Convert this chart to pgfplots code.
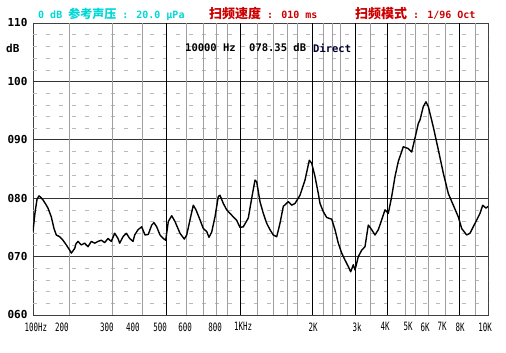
\documentclass[border=0pt]{standalone}
\usepackage{pgfplots}
\pgfplotsset{compat=1.18}
\usepackage{fontspec}
\setmainfont{DejaVu Sans}
\newfontfamily\ylab{DejaVu Sans Mono}
\newfontfamily\xlab[FakeStretch=0.65]{DejaVu Sans Mono}
\newfontfamily\cjk{Noto Sans CJK SC}
\definecolor{cyantxt}{HTML}{00D8D8}
\definecolor{redtxt}{HTML}{CC0000}
\begin{document}
\begin{tikzpicture}[x=1pt,y=1pt]
\useasboundingbox (0,0) rectangle (506,353);
\fill[white] (0,0) rectangle (506,353);
\begin{axis}[
  at={(33pt,38pt)}, anchor=south west, scale only axis,
  width=455pt, height=292pt,
  xmin=33, xmax=488, ymin=60, ymax=110,
  axis line style={black!75, line width=0.6pt},
  xtick={36,62,107,133,160,185,215,243,313,357,385,408,425,442,460,485},
  xticklabels={100Hz,200,300,400,500,600,800,1KHz,2K,3k,4K,5K,6K,7K,8K,10K},
  ytick={60,70,80,90,100,110},
  yticklabels={060,070,080,090,100,110},
  major tick length=0pt,
  xticklabel style={font=\xlab\fontsize{11.5}{11.5}\selectfont, yshift=-4pt},
  yticklabel style={font=\ylab\bfseries\fontsize{11}{11}\selectfont, text=black, xshift=-2pt},
]
\pgfplotsinvokeforeach{62,64,66,68,72,74,76,78,82,84,86,88,92,94,96,98,102,104,106,108}{
  \draw[gray!55, dash pattern=on 4pt off 9pt] (33,#1) -- (488,#1);}
\pgfplotsinvokeforeach{70,80,90,100}{
  \draw[black!80, line width=0.6pt] (33,#1) -- (488,#1);}
\pgfplotsinvokeforeach{69,112,142,186,203,216,227,257,273,287,297,323,332,340,370,405,415,428,445,475}{
  \draw[gray!75, line width=0.6pt] (#1,60) -- (#1,110);}
\pgfplotsinvokeforeach{166,240,312,355,387,459}{
  \draw[black, line width=0.9pt] (#1,60) -- (#1,110);}
\addplot[black, line width=1.4pt, line join=round] coordinates {
(33,74.3) (35,77.5) (37,79.8) (39,80.4) (41,80.1) (43,79.7) (46,78.9) (48,78.3)
(51.3,76.8) (54,74.8) (56.3,73.7) (59.7,73.4) (63,72.8) (66.3,72.0) (69.7,71.1)
(71.3,70.6) (74.7,71.4) (76,72.2) (78,72.6) (81.3,72.0) (84.7,72.3) (88,71.7)
(91.3,72.6) (94.7,72.3) (98,72.6) (101.3,72.8) (104.7,72.4) (108,73.1) (111.3,72.6)
(114.7,74.0) (118,73.1) (119.7,72.3) (123,73.4) (126.3,74.0) (129.7,73.1) (133,72.6)
(134.7,73.7) (138,74.6) (141.7,75.1) (145,73.7) (148.3,73.8) (151.7,75.4) (154,75.8)
(156.7,75.1) (160,73.7) (163.3,73.1) (165.7,72.8) (168.3,76.0) (171.7,77.0) (175,76.0)
(180,74.0) (184.3,73.0) (186.7,73.7) (190,76.3) (193.3,78.8) (196,78.0) (200,76.3)
(203.3,74.8) (206.7,74.3) (209,73.3) (211.7,74.2) (215,76.8) (218.3,80.3) (220,80.5)
(223.3,79.1) (226.7,78.0) (230,77.4) (233.3,76.8) (236.7,76.2) (240,75.0) (243.3,75.1)
(248.3,76.6) (251.7,80.0) (255,83.1) (256.7,82.8) (260,79.4) (263.3,77.4) (266.7,75.7)
(270,74.6) (273.3,73.7) (276.7,73.4) (280,75.7) (283.3,78.6) (288.3,79.4) (291.7,78.8)
(295,79.1) (300,80.5) (305,83.1) (309.3,86.5) (311.7,86.0) (315,83.7) (318.3,80.8)
(320,79.1) (323.3,77.7) (326.7,76.7) (331.7,76.4) (335,74.6) (338.3,72.3) (341.7,70.6)
(345,69.4) (348.3,68.3) (350.7,67.4) (353.3,68.6) (355,67.7) (358.3,70.0) (361.7,71.1)
(365,71.7) (368.3,75.4) (371.7,74.6) (375,73.7) (378.3,74.6) (381.7,76.3) (385,78.0)
(388.3,77.4) (391.7,80.3) (395,83.7) (398.3,86.3) (403.3,88.8) (408.3,88.5) (411.7,87.9)
(415,90.3) (418.3,92.8) (420,93.4) (423.3,95.7) (426,96.5) (428.3,95.7) (433.3,92.2)
(438.3,88.3) (443.3,84.3) (448.3,80.8) (453.3,78.8) (458.3,76.8) (461.7,74.8) (466.7,73.7)
(470,74.0) (475,75.7) (480,77.4) (482.7,78.8) (486,78.3) (488,78.6)
};
\end{axis}
% y unit
\node[anchor=west, inner sep=0pt, font=\ylab\bfseries\fontsize{11}{11}\selectfont] at (6,305) {dB};
% readout inside plot
\node[anchor=west, inner sep=0pt, font=\ylab\bfseries\fontsize{10.5}{10.5}\selectfont] at (185,305) {10000 Hz};
\node[anchor=west, inner sep=0pt, font=\ylab\bfseries\fontsize{10.5}{10.5}\selectfont] at (249,305) {078.35 dB};
\node[anchor=west, inner sep=0pt, font=\ylab\bfseries\fontsize{10.5}{10.5}\selectfont, text=black!80!blue] at (313,305) {Direct};
% header
\node[anchor=west, inner sep=0pt, text=cyantxt, font=\ylab\bfseries\fontsize{10}{10}\selectfont] at (38,339)
  {0 dB {\cjk\bfseries\fontsize{12}{12}\selectfont 参考声压} : 20.0 μPa};
\node[anchor=west, inner sep=0pt, text=redtxt, font=\ylab\bfseries\fontsize{10}{10}\selectfont] at (209,339)
  {{\cjk\bfseries\fontsize{13}{13}\selectfont 扫频速度} : 010 ms};
\node[anchor=west, inner sep=0pt, text=redtxt, font=\ylab\bfseries\fontsize{10}{10}\selectfont] at (355,339)
  {{\cjk\bfseries\fontsize{13}{13}\selectfont 扫频模式} : 1/96 Oct};
\end{tikzpicture}
\end{document}
